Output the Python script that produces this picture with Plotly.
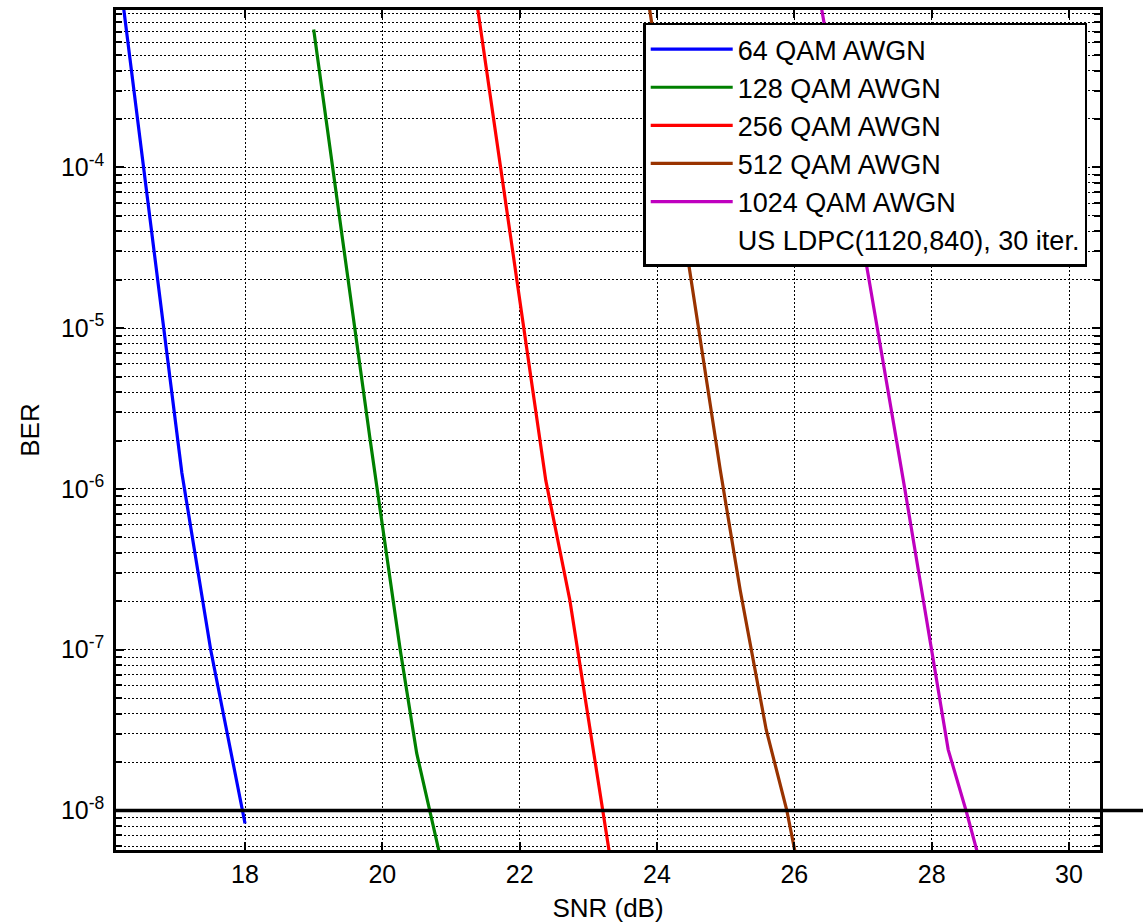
import plotly.graph_objects as go

# ---- data ----
snr_64 = [16.2, 17.08, 17.5, 18.0]
ber_64 = [1.26e-3, 1.26e-6, 1.0e-7, 8.3e-9]

snr_128 = [19.0, 19.82, 20.26, 20.5, 20.85]
ber_128 = [7.2e-4, 2.05e-6, 1.0e-7, 2.27e-8, 5.0e-9]

snr_256 = [21.35, 22.38, 22.73, 23.2, 23.32]
ber_256 = [1.26e-3, 1.13e-6, 2.04e-7, 1.0e-8, 5.0e-9]

snr_512 = [23.85, 24.92, 25.21, 25.59, 25.89, 26.03]
ber_512 = [1.26e-3, 1.32e-6, 2.36e-7, 3.18e-8, 1.0e-8, 5.0e-9]

snr_1024 = [26.35, 27.08, 27.61, 27.98, 28.24, 28.5, 28.69]
ber_1024 = [1.26e-3, 2.09e-5, 9.9e-7, 1.15e-7, 2.39e-8, 1.0e-8, 5.0e-9]

series_names = ["64 QAM AWGN", "128 QAM AWGN", "256 QAM AWGN",
                "512 QAM AWGN", "1024 QAM AWGN"]
series_colors = ["rgb(0,0,255)", "rgb(0,128,0)", "rgb(255,0,0)",
                 "rgb(153,51,0)", "rgb(191,0,191)"]
note_label = "US LDPC(1120,840), 30 iter."
target_ber = 1e-8

x_ticks = [18, 20, 22, 24, 26, 28, 30]
y_decades = [1e-8, 1e-7, 1e-6, 1e-5, 1e-4]
y_ticktext = ["10<sup>-8</sup>", "10<sup>-7</sup>", "10<sup>-6</sup>",
              "10<sup>-5</sup>", "10<sup>-4</sup>"]
y_minor = [m * d for d in [1e-9, 1e-8, 1e-7, 1e-6, 1e-5, 1e-4, 1e-3]
           for m in range(2, 10)]

x_range = [16.121, 30.451]
y_range_log = [-8.246, -3.021]

FONT = "Liberation Sans, Arial, Helvetica, sans-serif"

fig = go.Figure()
all_x = [snr_64, snr_128, snr_256, snr_512, snr_1024]
all_y = [ber_64, ber_128, ber_256, ber_512, ber_1024]
for xs, ys, name, col in zip(all_x, all_y, series_names, series_colors):
    fig.add_trace(go.Scatter(x=xs, y=ys, mode="lines", name=name,
                             line=dict(color=col, width=3.2)))
# legend-only text entry (no visible line)
fig.add_trace(go.Scatter(x=[None], y=[None], mode="lines", name=note_label,
                         line=dict(color="rgba(0,0,0,0)", width=3)))

# target BER line extending past right axis
fig.add_shape(type="line", xref="paper", yref="y", x0=0, x1=1.1,
              y0=target_ber, y1=target_ber,
              line=dict(color="black", width=3.5), layer="above")

grid_dash = "2px,2px"
fig.update_xaxes(range=x_range, tickvals=x_ticks, ticks="inside", ticklen=8,
                 tickwidth=1.5, tickcolor="black", mirror="ticks", showline=True,
                 linecolor="black", linewidth=2.5, showgrid=True,
                 gridcolor="black", gridwidth=1.4, griddash=grid_dash,
                 zeroline=False, tickfont=dict(size=25, color="black"),
                 automargin=False,
                 title=dict(text="SNR (dB)", font=dict(size=26, color="black"),
                            standoff=13))
fig.update_yaxes(type="log", range=y_range_log, tickvals=y_decades,
                 ticktext=y_ticktext, ticks="inside", ticklen=8, tickwidth=1.5,
                 tickcolor="black", mirror="ticks", showline=True,
                 linecolor="black", linewidth=2.5, showgrid=True,
                 gridcolor="black", gridwidth=1.4, griddash=grid_dash,
                 zeroline=False, tickfont=dict(size=25, color="black"),
                 ticklabelstandoff=4, automargin=False,
                 minor=dict(tickvals=y_minor, ticks="inside", ticklen=6,
                            tickcolor="black", showgrid=True,
                            gridcolor="black", gridwidth=1.4, griddash=grid_dash),
                 title=dict(text="BER", font=dict(size=26, color="black"),
                            standoff=14))

fig.update_layout(
    width=1143, height=923,
    margin=dict(l=116, r=43, t=10, b=73, autoexpand=False),
    paper_bgcolor="white", plot_bgcolor="white",
    font=dict(family=FONT, size=25, color="black"),
    showlegend=True,
    legend=dict(x=0.987, xanchor="right", y=0.985, yanchor="top",
                bgcolor="white", bordercolor="black", borderwidth=2.5,
                font=dict(size=27, color="black"), itemwidth=82,
                tracegroupgap=0),
)

fig.write_html("out.html")
